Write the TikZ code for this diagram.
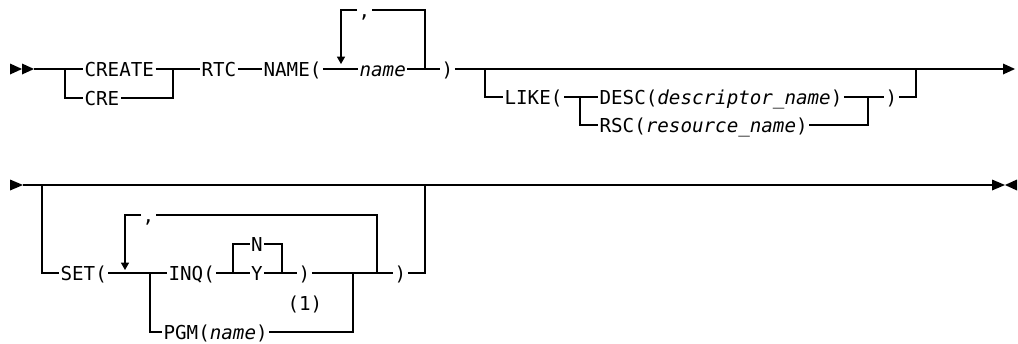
\documentclass[tikz,border=0pt]{standalone}
\usepackage{fontspec}
\newfontfamily\diagmono{DejaVu Sans Mono}[ItalicFont={DejaVu Sans Mono Oblique}]
\usetikzlibrary{arrows.meta}
\begin{document}
\begin{tikzpicture}[x=0.75pt,y=-0.75pt,
  line width=0.8pt,
  kw/.style={font={\diagmono\fontsize{14.4pt}{17pt}\selectfont}, inner xsep=0.8pt, inner ysep=0pt,
             text height=10.5pt, text depth=0pt, anchor=west},
  rail/.style={draw=black, line width=0.85pt},
  looptip/.style={-{Triangle[width=6pt,length=5.5pt]}},
  railtip/.style={fill=black}]
\useasboundingbox (0,0) rectangle (1018,343);

% ---------- row 1 ----------
\node[kw] (create) at (83,69) {CREATE};
\node[kw] (cre) at (83,98) {CRE};
\node[kw] (rtc) at (200,69) {RTC};
\node[kw] (namep) at (262,69) {NAME(};
\node[kw] (name) at (358,69) {\textit{name}};
\node[kw] (comma1) at (357,10) {,};
\node[kw] (rp1) at (440,69) {)};
\node[kw] (like) at (503,97) {LIKE(};
\node[kw] (desc) at (598,97) {DESC(\textit{descriptor\_name})};
\node[kw] (rsc) at (598,125) {RSC(\textit{resource\_name})};
\node[kw] (rp2) at (884,97) {)};

\coordinate (s1) at (34,69);
\coordinate (j1) at (65,69);
\coordinate (j2) at (173,69);
\coordinate (l1L) at (341,10);
\coordinate (l1tip) at (341,64);
\coordinate (l1R) at (425,69);
\coordinate (l1Rt) at (425,10);
\coordinate (likeJ) at (485,69);
\coordinate (descJ) at (580,97);
\coordinate (rscJ) at (868,97);
\coordinate (likeE) at (916,69);
\coordinate (e1) at (1003,69);

\fill[railtip] (10,63.5) -- (22,69) -- (10,74.5) -- cycle;
\fill[railtip] (22,63.5) -- (34,69) -- (22,74.5) -- cycle;
\draw[rail] (s1) -- (create.west);
\draw[rail] (j1) |- (cre.west);
\draw[rail] (create.east) -- (rtc.west);
\draw[rail] (cre.east) -| (j2);
\draw[rail] (rtc.east) -- (namep.west);
\draw[rail] (namep.east) -- (name.west);
\draw[rail] (name.east) -- (rp1.west);
\draw[rail] (l1R) -- (l1Rt) -- (comma1.east);
\draw[rail,looptip] (comma1.west) -- (l1L) -- (l1tip);
\draw[rail] (rp1.east) -- (e1);
\fill[railtip] (1003,63.5) -- (1015,69) -- (1003,74.5) -- cycle;
\draw[rail] (likeJ) |- (like.west);
\draw[rail] (like.east) -- (desc.west);
\draw[rail] (descJ) |- (rsc.west);
\draw[rail] (desc.east) -- (rp2.west);
\draw[rail] (rsc.east) -| (rscJ);
\draw[rail] (rp2.east) -| (likeE);

% ---------- row 2 ----------
\node[kw] (set) at (59,273) {SET(};
\node[kw] (comma2) at (141,215) {,};
\node[kw] (inq) at (167,273) {INQ(};
\node[kw] (n) at (249.5,244) {N};
\node[kw] (y) at (249.5,273) {Y};
\node[kw] (rp3) at (297,273) {)};
\node[kw] (note) at (286,303) {(1)};
\node[kw] (pgm) at (162,332) {PGM(\textit{name})};
\node[kw] (rp4) at (393,273) {)};

\coordinate (s2) at (23,185);
\coordinate (j3) at (42,185);
\coordinate (l2L) at (125,215);
\coordinate (l2tip) at (125,270);
\coordinate (br2) at (150,273);
\coordinate (nyL) at (233,273);
\coordinate (nyR) at (282,273);
\coordinate (pgmJ) at (353,273);
\coordinate (l2R) at (377,273);
\coordinate (setE) at (425,185);
\coordinate (e2) at (992,185);

\fill[railtip] (10,179.5) -- (23,185) -- (10,190.5) -- cycle;
\draw[rail] (s2) -- (e2);
\fill[railtip] (992,179.5) -- (1005,185) -- (992,190.5) -- cycle;
\fill[railtip] (1017,179.5) -- (1005,185) -- (1017,190.5) -- cycle;
\draw[rail] (j3) |- (set.west);
\draw[rail] (set.east) -- (inq.west);
\draw[rail] (br2) |- (pgm.west);
\draw[rail] (l2R) |- (comma2.east);
\draw[rail,looptip] (comma2.west) -| (l2tip);
\draw[rail] (inq.east) -- (y.west);
\draw[rail] (nyL) |- (n.west);
\draw[rail] (n.east) -| (nyR);
\draw[rail] (y.east) -- (rp3.west);
\draw[rail] (rp3.east) -- (rp4.west);
\draw[rail] (pgm.east) -| (pgmJ);
\draw[rail] (rp4.east) -| (setE);
\end{tikzpicture}
\end{document}
